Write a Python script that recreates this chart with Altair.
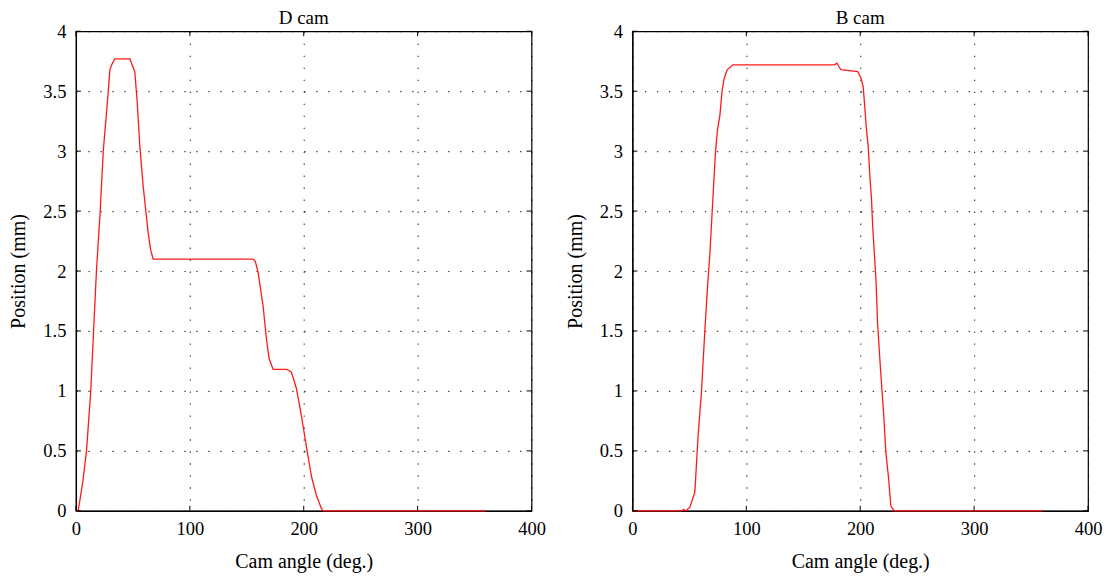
import altair as alt
import pandas as pd

# D cam profile (angle in deg, position in mm)
d_angle = [0, 2, 6, 9.3, 13, 15.5, 18, 21.3, 24, 28.4, 29.8, 31.9, 34.2, 47.4, 49.7, 51.7, 53.8,
           56.1, 59, 61.4, 63.4, 65.5, 67.8, 155.5, 157.5, 159.9, 164.3, 167.3, 169.6, 173.1,
           184.8, 187, 189.2, 193.6, 198, 202.3, 206.7, 211.1, 215.5, 217, 360]
d_pos = [0, 0, 0.24, 0.5, 1.0, 1.5, 2.0, 2.5, 3.0, 3.5, 3.68, 3.73, 3.77, 3.77, 3.71, 3.66, 3.41,
         3.04, 2.71, 2.5, 2.32, 2.18, 2.1, 2.1, 2.08, 1.99, 1.71, 1.43, 1.27, 1.18,
         1.18, 1.17, 1.156, 1.02, 0.79, 0.54, 0.29, 0.13, 0.02, 0, 0]

# B cam profile
b_angle = [0, 43, 45, 47, 50.5, 54.8, 57.7, 60.6, 63.5, 65.8, 67.9, 70.8, 72.9, 74.7, 76.7, 78.7,
           80.4, 83.3, 88.3, 177.3, 179.6, 181, 183, 197.8, 200.6, 202.6, 205.5, 207, 208.5,
           209.9, 210.9, 213.8, 215.2, 217.6, 220.5, 222.5, 224.9, 226.9, 229.8, 360]
b_pos = [0, 0, 0.01, 0, 0.03, 0.156, 0.63, 0.99, 1.49, 1.85, 2.13, 2.63, 2.99, 3.18, 3.29, 3.5,
         3.6, 3.68, 3.72, 3.72, 3.733, 3.71, 3.68, 3.664, 3.61, 3.54, 3.18, 3.04, 2.79,
         2.6, 2.38, 1.93, 1.57, 1.21, 0.82, 0.49, 0.27, 0.04, 0, 0]

x_ticks = [0, 100, 200, 300, 400]
y_ticks = [0, 0.5, 1, 1.5, 2, 2.5, 3, 3.5, 4]

W, H = 456, 480
FONT = "Liberation Serif"
TICK = 5


def panel(title, angle, pos):
    df = pd.DataFrame({"angle": angle, "pos": pos})
    xs = alt.Scale(domain=[0, 400], nice=False)
    ys = alt.Scale(domain=[0, 4], nice=False)
    line = alt.Chart(df).mark_line(color="#ff1a1a", strokeWidth=1.3).encode(
        x=alt.X("angle:Q", scale=xs, title="Cam angle (deg.)",
                axis=alt.Axis(values=x_ticks, format="d")),
        y=alt.Y("pos:Q", scale=ys, title="Position (mm)",
                axis=alt.Axis(values=y_ticks, format="~g")),
    )
    xt = pd.DataFrame({"t": x_ticks})
    yt = pd.DataFrame({"t": y_ticks})
    xb = alt.Chart(xt).mark_rule(color="black", strokeWidth=1).encode(
        x=alt.X("t:Q", scale=xs), y=alt.value(H), y2=alt.value(H - TICK))
    xtop = alt.Chart(xt).mark_rule(color="black", strokeWidth=1).encode(
        x=alt.X("t:Q", scale=xs), y=alt.value(0), y2=alt.value(TICK))
    yl = alt.Chart(yt).mark_rule(color="black", strokeWidth=1).encode(
        y=alt.Y("t:Q", scale=ys), x=alt.value(0), x2=alt.value(TICK))
    yr = alt.Chart(yt).mark_rule(color="black", strokeWidth=1).encode(
        y=alt.Y("t:Q", scale=ys), x=alt.value(W), x2=alt.value(W - TICK))
    return alt.layer(line, xb, xtop, yl, yr).properties(
        width=W, height=H,
        title=alt.Title(title, font=FONT, fontSize=19, fontWeight="normal", color="black",
                        offset=-6, frame="group"),
    )


chart = alt.hconcat(
    panel("D cam", d_angle, d_pos),
    panel("B cam", b_angle, b_pos),
    spacing=101, bounds="flush",
).properties(
    padding=0
).configure(
    background="white"
).configure_view(
    stroke="black", strokeWidth=1.2
).configure_axis(
    labelFont=FONT, titleFont=FONT, labelFontSize=18.5, titleFontSize=20,
    titleFontWeight="normal", labelColor="black", titleColor="black",
    domainColor="black", domainWidth=1.2, ticks=False, labelPadding=10,
    grid=True, gridColor="black", gridOpacity=0.75, gridDash=[1.4, 10.6], gridWidth=1.2,
).configure_axisX(
    titlePadding=13, labelFlush=False, labelPadding=9
).configure_axisY(
    titlePadding=14, labelFlush=False
)

chart.save("out.html", embed_options={"renderer": "svg", "actions": False})
